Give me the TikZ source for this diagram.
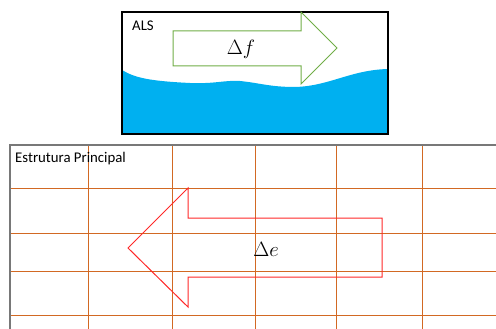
\documentclass[tikz,border=0pt]{standalone}
\usepackage{fontspec}
\setmainfont{Carlito}
\usepackage{tikz}
\definecolor{alsBlue}  {RGB}{0,  176, 240}
\definecolor{setaVerde}{RGB}{112,173, 71}
\definecolor{setaVerm} {RGB}{255, 40, 40}
\definecolor{grade}    {RGB}{210,105, 35}
\definecolor{moldura}  {RGB}{120,120,120}

\begin{document}
\begin{tikzpicture}[x=1pt,y=-1pt,
        rot/.style={font=\fontsize{14.8}{17}\selectfont,anchor=base west,inner sep=0pt},
        mat/.style={font=\fontsize{21}{24}\selectfont,inner sep=0pt},
        gr/.style={draw=grade,line width=0.9pt},
        seta/.style={line width=1pt,line join=miter}]
        \useasboundingbox (0,0) rectangle (496,329);

        % ALS
        \fill[alsBlue] (122,70) .. controls (135,78) and (150,81) .. (190,83)
              .. controls (215,84) and (225,80) .. (240,81)
              .. controls (260,83) and (270,87) .. (295,87)
              .. controls (330,86) and (350,70) .. (388,69)
              -- (388,134) -- (122,134) -- cycle;
        \draw[line width=1.1pt] (122,12) rectangle (388,134);
        \node[rot] (als) at (132,31) {ALS};
        \draw[seta,draw=setaVerde] (173,31) -- (301,31) -- (301,12) -- (337,48)
              -- (301,84) -- (301,66) -- (173,66) -- cycle;
        \node[mat] (df) at (241,49) {$\Delta f$};

        % Estrutura Principal
        \foreach \x in {88,172,255,336,422}{
          \draw[gr] (\x,145) -- (\x,329);
        }
        \foreach \y in {188,233,271,315}{
          \draw[gr] (10,\y) -- (496,\y);
        }
        \draw[draw=moldura,line width=1.2pt] (10,329) -- (10,145) -- (496,145);
        \node[rot] (ep) at (15,162) {Estrutura Principal};
        \draw[seta,draw=setaVerm] (128,248) -- (188,188) -- (188,218) -- (382,218)
              -- (382,277) -- (188,277) -- (188,307) -- cycle;
        \node[mat] (de) at (266,249) {$\Delta e$};
\end{tikzpicture}
\end{document}
